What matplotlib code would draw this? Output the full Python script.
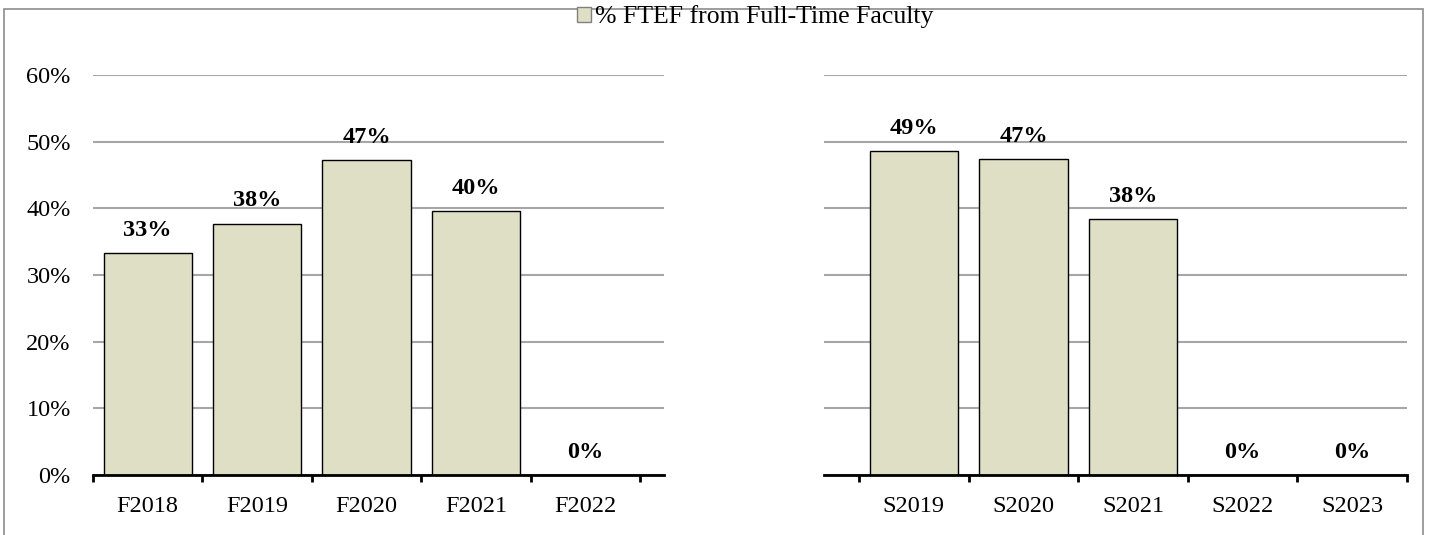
import matplotlib.pyplot as plt
from matplotlib.patches import Rectangle, Patch

# Data
fall_terms = ['F2018', 'F2019', 'F2020', 'F2021', 'F2022']
fall_pct = [0.333, 0.377, 0.472, 0.396, 0.0]
spring_terms = ['S2019', 'S2020', 'S2021', 'S2022', 'S2023']
spring_pct = [0.486, 0.474, 0.384, 0.0, 0.0]
series_name = '% FTEF from Full-Time Faculty'

plt.rcParams['font.family'] = 'Liberation Serif'

bar_color = '#DFDFC6'
grid_color = '#A6A6A6'

fig = plt.figure(figsize=(14.31, 5.35), dpi=100)

# outer chart border
fig.patches.append(Rectangle((4 / 1431, -0.05), 1419 / 1431, 1 - 9 / 535 + 0.05,
                             transform=fig.transFigure, fill=False,
                             edgecolor='#8C8C8C', linewidth=1.2))

ax1 = fig.add_axes([93 / 1431, 1 - 475 / 535, 571 / 1431, 400 / 535])
ax2 = fig.add_axes([824 / 1431, 1 - 475 / 535, 583 / 1431, 400 / 535])


def draw(ax, terms, vals, xlim, show_y):
    x = list(range(len(terms)))
    ax.bar(x, vals, width=0.807, color=bar_color, edgecolor='black',
           linewidth=1.0, zorder=3)
    for xi, v in zip(x, vals):
        ax.text(xi, v + 0.034, f'{v:.0%}', ha='center', va='center',
                fontsize=17.5, fontweight='bold', zorder=4)
    ax.set_ylim(0, 0.6)
    ax.set_xlim(*xlim)
    ax.set_yticks([i / 10 for i in range(7)])
    ax.yaxis.grid(True, color=grid_color, linewidth=1.5, zorder=0)
    ax.set_axisbelow(True)
    for s in ['top', 'right', 'left']:
        ax.spines[s].set_visible(False)
    ax.spines['bottom'].set_linewidth(2)
    ax.spines['bottom'].set_zorder(5)
    ax.set_xticks(x)
    ax.set_xticklabels(terms, fontsize=17.5)
    ax.tick_params(axis='x', which='major', length=0, pad=15)
    ax.set_xticks([i - 0.5 for i in range(len(terms) + 1)], minor=True)
    ax.tick_params(axis='x', which='minor', length=5, width=2, direction='out')
    if show_y:
        ax.set_yticklabels([f'{i * 10}%' for i in range(7)], fontsize=17.5)
        ax.tick_params(axis='y', length=0, pad=16)
    else:
        ax.tick_params(axis='y', length=0, labelleft=False)


draw(ax1, fall_terms, fall_pct, (-0.5, 4.72), True)
draw(ax2, spring_terms, spring_pct, (-0.82, 4.5), False)

fig.legend(handles=[Patch(facecolor=bar_color, edgecolor='#808080', label=series_name)],
           loc='center', bbox_to_anchor=(755 / 1431, 1 - 17 / 535), frameon=False,
           fontsize=18.5, handlelength=0.55, handleheight=0.55, handletextpad=0.15)

fig.savefig('out.png', dpi=100)
